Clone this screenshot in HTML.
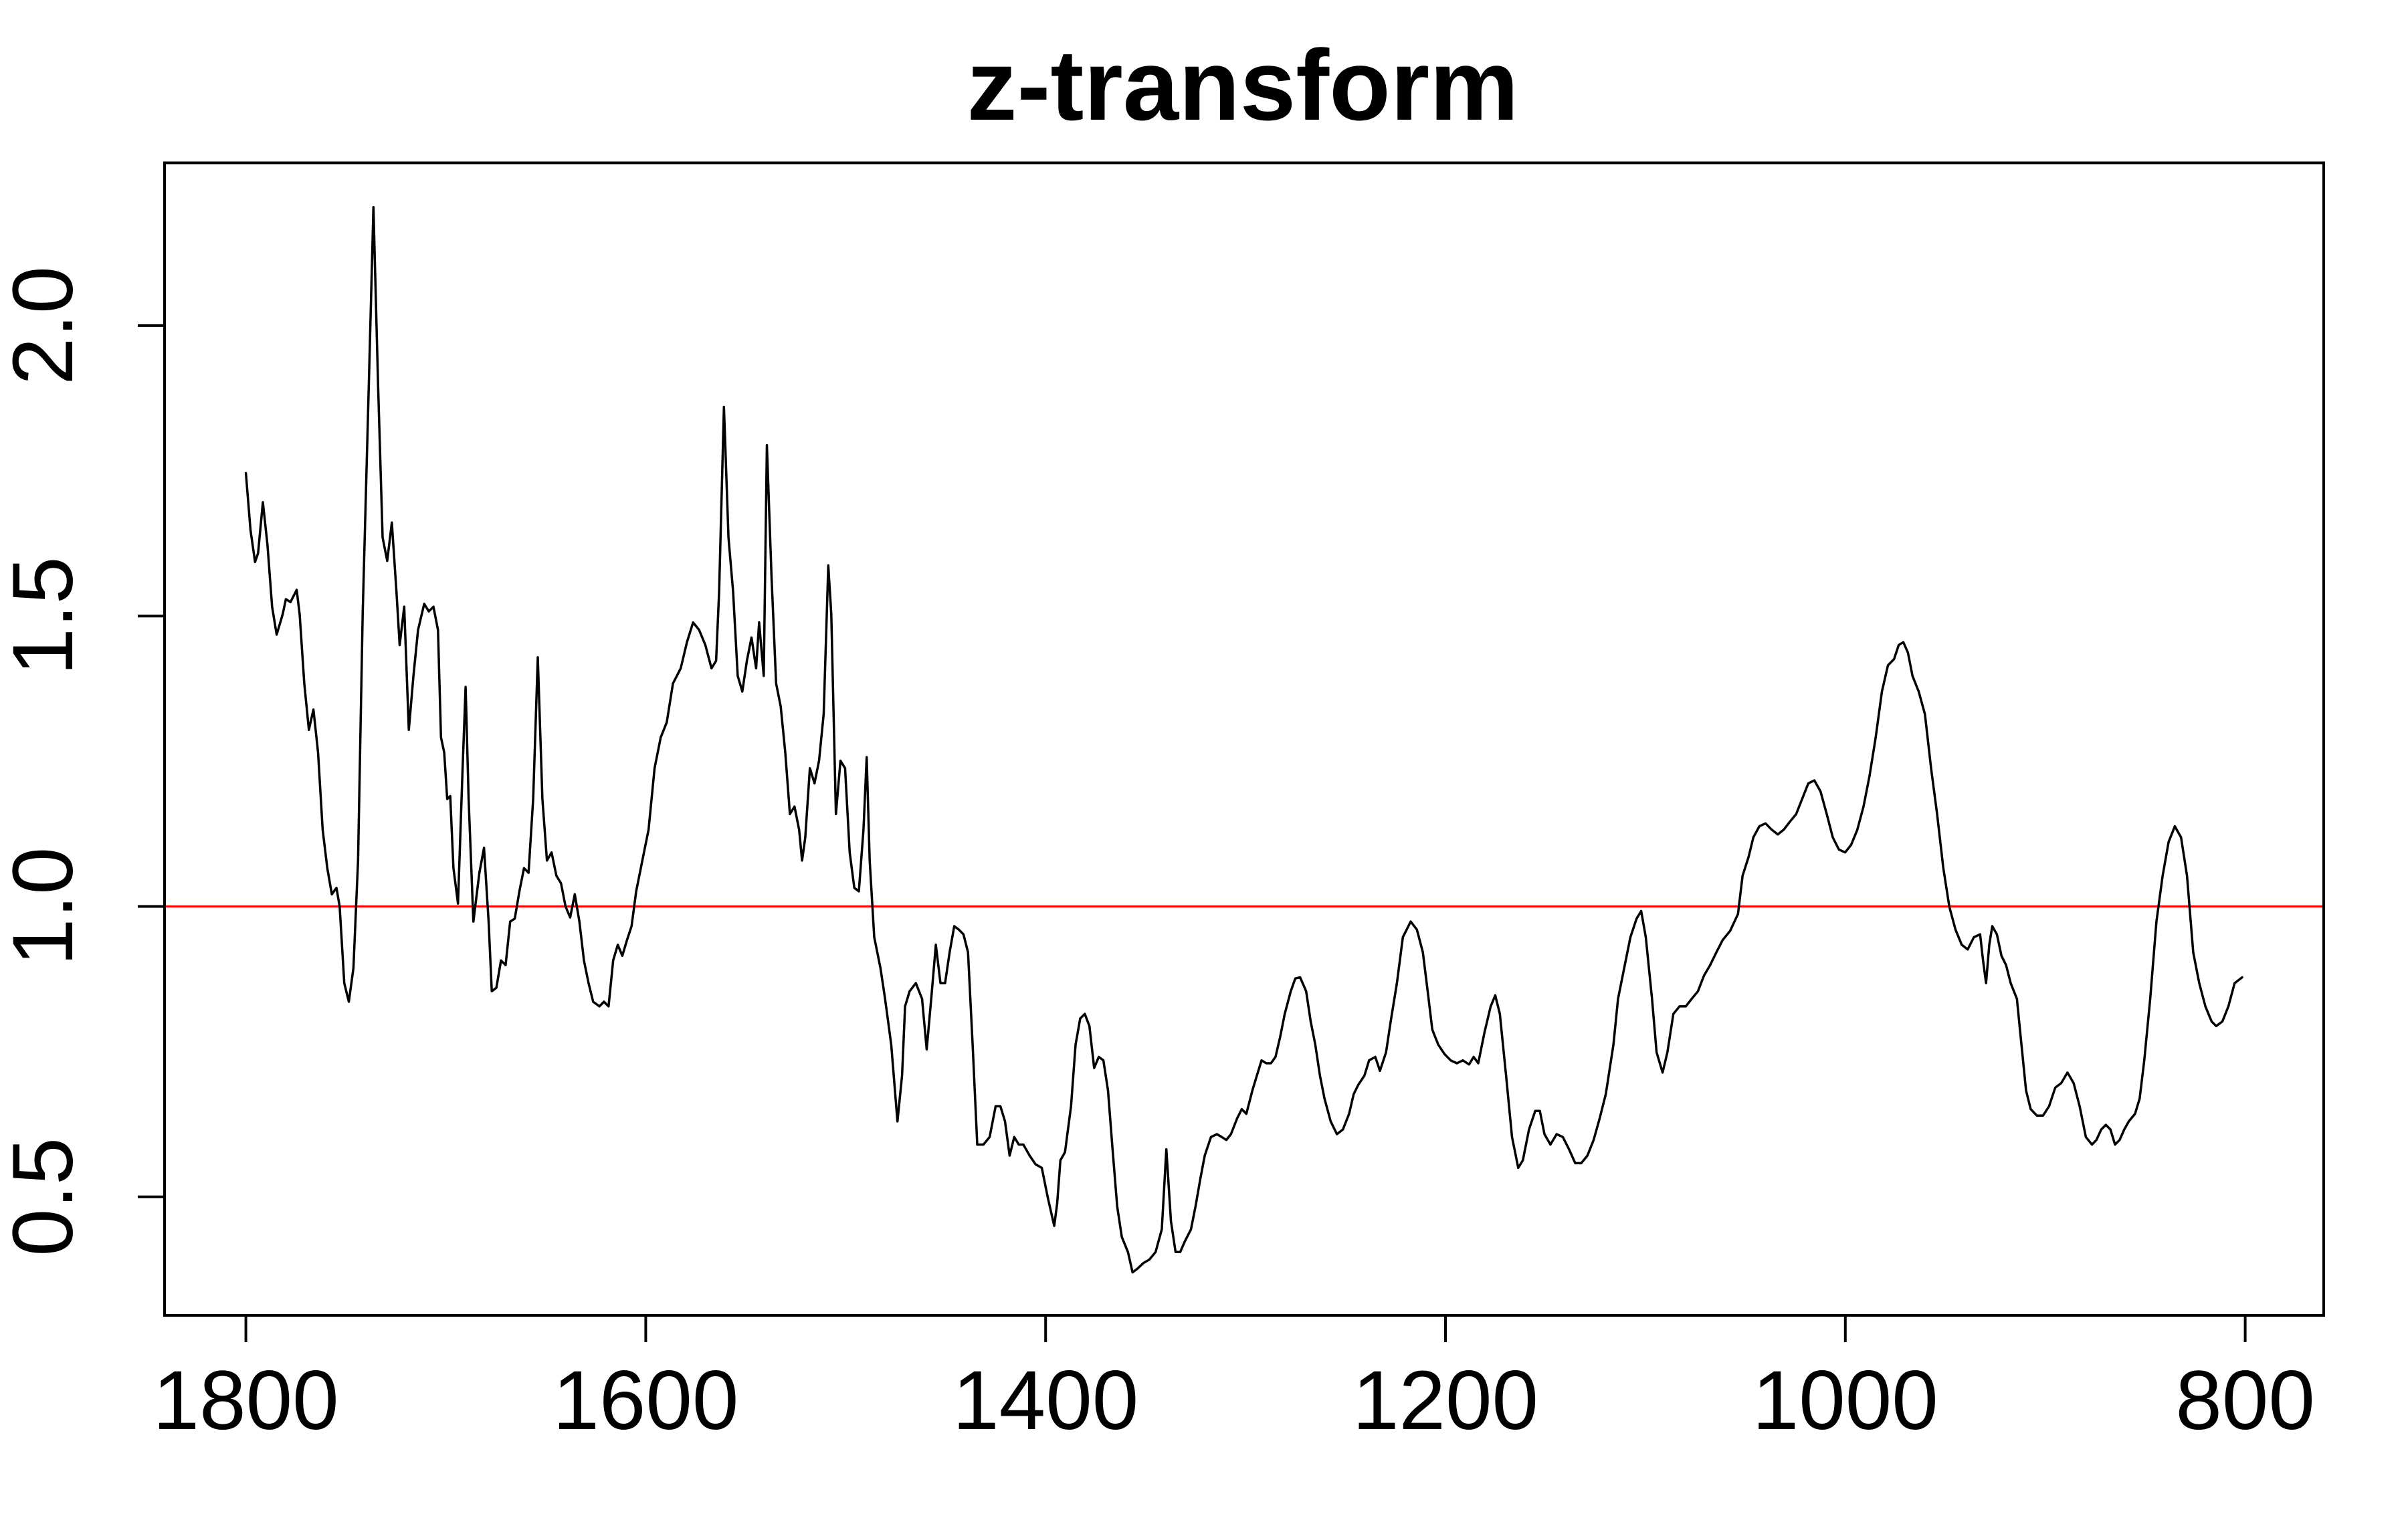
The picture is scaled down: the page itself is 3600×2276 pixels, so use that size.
<!DOCTYPE html>
<html><head><meta charset="utf-8"><style>
html,body{margin:0;padding:0;background:#fff;}
svg{display:block;font-family:"Liberation Sans",sans-serif;}
</style></head><body>
<svg id="chart" width="3600" height="2276" viewBox="0 0 3600 2276" xmlns="http://www.w3.org/2000/svg">
<rect x="0" y="0" width="3600" height="2276" fill="#fff"/>
<text x="1858" y="179" text-anchor="middle" font-size="150" font-weight="bold">z-transform</text>
<g id="plot"></g>
</svg>
<script>
const years=[1800,1797.7,1795.4,1793.9,1791.5,1789.2,1786.9,1784.6,1781.6,1780,1777.7,1774.6,1773.1,1770.8,1768.5,1766.2,1763.9,1761.6,1759.3,1757,1754.7,1753.1,1750.8,1748.5,1746.2,1743.9,1741.6,1738.5,1736.2,1733.9,1731.6,1729.3,1727,1724.7,1723.1,1720.8,1718.5,1716.2,1713.9,1710.8,1708.5,1706.2,1703.9,1702.4,1700.8,1699.3,1697.8,1696.2,1693.9,1691.6,1690.1,1688.6,1686.2,1683.2,1680.9,1678.6,1677,1674.7,1672.4,1670.1,1667.8,1665.5,1663.2,1660.9,1658.6,1656.3,1654,1651.7,1649.4,1647.1,1644.7,1642.4,1640.1,1637.8,1635.5,1633.2,1630.9,1628.6,1626.3,1623.2,1620.9,1618.6,1616.3,1614,1611.7,1609.4,1607.1,1604.8,1601.7,1598.6,1595.6,1592.5,1589.5,1586.4,1582.5,1579.4,1576.3,1573.3,1570.2,1567.1,1564.8,1563.3,1560.9,1558.6,1556.3,1554,1551.7,1549.4,1547.1,1544.8,1543.3,1541,1539.4,1537.1,1534.8,1532.5,1530.2,1527.9,1525.6,1523.3,1521.8,1520.2,1517.9,1515.6,1513.3,1511,1508.7,1507.2,1504.9,1502.6,1500.3,1498,1495.7,1493.4,1491.1,1489.5,1488,1485.7,1482.6,1480.3,1477.2,1474.1,1471.8,1470.3,1468,1464.9,1461.8,1459.5,1457.2,1454.9,1452.6,1450.3,1448,1445.7,1443.4,1441.1,1438.8,1436.5,1434.2,1431.1,1428,1425,1422.6,1420.3,1418,1415.7,1413.4,1411.1,1408,1405,1401.9,1398.8,1395.7,1394.2,1392.6,1390.3,1387.3,1385,1382.7,1380.4,1378.1,1375.7,1373.4,1371.1,1368.8,1366.5,1364.2,1361.9,1358.8,1356.5,1354.2,1351.1,1348.1,1345,1341.9,1339.6,1337.3,1335,1332.7,1330.4,1327.3,1325,1322.7,1320.4,1317.3,1314.3,1311.9,1309.6,1307.3,1304.2,1301.9,1299.6,1296.6,1294.3,1292,1289.6,1287.3,1285,1282.7,1280.4,1277.4,1275.1,1272.7,1269.7,1267.4,1265.1,1262.8,1260.5,1257.4,1254.3,1251.3,1248.2,1245.9,1243.6,1240.5,1238.2,1235.1,1232.8,1229.7,1227.4,1224.3,1221.3,1217.4,1214.3,1211.3,1208.9,1206.6,1203.6,1200.5,1197.4,1194.3,1191.3,1188.2,1185.9,1183.6,1180.5,1177.4,1175.1,1172.8,1169.7,1166.7,1163.6,1161.3,1158.2,1155.1,1152.8,1150.5,1147.5,1144.4,1141.3,1138.2,1135.1,1132.1,1129,1125.9,1122.9,1119.8,1116,1113.7,1110.6,1107.5,1104.4,1102.1,1099.8,1096.7,1094.4,1091.4,1089,1086,1082.9,1079.8,1076.8,1073.7,1070.7,1067.6,1064.5,1061.4,1057.6,1053.7,1051.4,1048.4,1046,1043,1039.9,1036.8,1033.8,1030.8,1027.7,1024.6,1021.6,1018.5,1015.5,1012.4,1009.3,1006.3,1003.2,1000.1,997.1,994,990.9,987.9,984.8,981.7,978.7,975.6,973.3,971,968.7,966.4,963.3,960.2,957.1,954.1,951,948,944.9,941.8,938.8,935.7,932.6,931.1,929.6,928,926.5,924.2,921.9,919.6,917.3,914.2,911.9,909.6,907.3,904.2,901.1,898.1,895,892,888.9,885.8,882.8,879.7,876.6,874.4,872,869.7,867.4,865.1,862.8,860.5,858.2,855.1,852.8,850.5,847.5,844.4,841.3,838.3,835.2,832.1,829.1,826,823,819.9,816.8,814.5,811.4,808.4,805.3,801.5];
const values=[1.746,1.648,1.593,1.608,1.696,1.622,1.516,1.468,1.503,1.529,1.524,1.545,1.503,1.384,1.304,1.339,1.265,1.132,1.066,1.021,1.032,1.0,0.868,0.836,0.894,1.079,1.503,1.899,2.204,1.899,1.635,1.595,1.661,1.542,1.450,1.516,1.304,1.397,1.476,1.521,1.508,1.516,1.476,1.291,1.265,1.185,1.190,1.066,1.005,1.238,1.378,1.185,0.974,1.058,1.101,0.974,0.854,0.860,0.907,0.899,0.974,0.979,1.026,1.066,1.058,1.185,1.429,1.185,1.079,1.093,1.053,1.040,1.0,0.981,1.021,0.974,0.907,0.868,0.836,0.828,0.836,0.828,0.907,0.934,0.915,0.942,0.966,1.026,1.079,1.132,1.238,1.291,1.317,1.384,1.410,1.455,1.489,1.476,1.450,1.410,1.423,1.542,1.860,1.635,1.542,1.397,1.370,1.423,1.463,1.410,1.489,1.397,1.794,1.569,1.384,1.344,1.265,1.159,1.172,1.132,1.079,1.119,1.238,1.212,1.251,1.331,1.587,1.503,1.159,1.251,1.238,1.093,1.032,1.026,1.132,1.257,1.079,0.947,0.894,0.841,0.762,0.630,0.709,0.828,0.854,0.868,0.841,0.754,0.841,0.934,0.868,0.868,0.921,0.966,0.960,0.952,0.921,0.762,0.590,0.590,0.603,0.656,0.656,0.630,0.571,0.603,0.590,0.590,0.571,0.556,0.550,0.497,0.450,0.489,0.563,0.577,0.656,0.762,0.807,0.815,0.794,0.722,0.741,0.735,0.683,0.582,0.484,0.431,0.405,0.370,0.376,0.386,0.392,0.405,0.444,0.582,0.458,0.405,0.405,0.423,0.444,0.484,0.529,0.571,0.603,0.608,0.603,0.598,0.608,0.635,0.651,0.643,0.683,0.709,0.735,0.730,0.730,0.741,0.775,0.815,0.854,0.876,0.878,0.854,0.802,0.762,0.709,0.669,0.630,0.608,0.616,0.643,0.677,0.693,0.709,0.735,0.741,0.717,0.749,0.802,0.868,0.947,0.974,0.960,0.921,0.854,0.788,0.762,0.746,0.735,0.730,0.735,0.728,0.741,0.730,0.783,0.828,0.847,0.815,0.709,0.603,0.550,0.563,0.616,0.648,0.648,0.608,0.590,0.608,0.603,0.582,0.558,0.558,0.571,0.598,0.635,0.677,0.762,0.841,0.894,0.947,0.979,0.992,0.947,0.841,0.749,0.714,0.749,0.815,0.828,0.828,0.841,0.854,0.881,0.899,0.921,0.942,0.958,0.987,1.053,1.085,1.119,1.138,1.143,1.132,1.124,1.132,1.146,1.159,1.185,1.212,1.217,1.198,1.159,1.119,1.098,1.093,1.106,1.132,1.172,1.225,1.291,1.370,1.415,1.426,1.450,1.455,1.437,1.397,1.370,1.331,1.238,1.159,1.066,1.0,0.960,0.934,0.926,0.947,0.952,0.907,0.868,0.934,0.966,0.952,0.915,0.899,0.868,0.841,0.762,0.683,0.651,0.640,0.640,0.656,0.688,0.696,0.714,0.696,0.656,0.603,0.590,0.598,0.616,0.624,0.616,0.590,0.598,0.616,0.630,0.643,0.669,0.735,0.841,0.974,1.053,1.111,1.138,1.119,1.053,0.921,0.868,0.828,0.802,0.794,0.802,0.828,0.868,0.878];
const xTicks=[1800,1600,1400,1200,1000,800];
const xTickLabels=["1800","1600","1400","1200","1000","800"];
const yTicks=[0.5,1.0,1.5,2.0];
const yTickLabels=["0.5","1.0","1.5","2.0"];
const refValue=1.0;

const NS="http://www.w3.org/2000/svg";
const X0=367.6,X1=3356.6,Y1=1355.5,Y0=1789.8;
function xs(yr){return X0+(1800-yr)*(X1-X0)/1000;}
function ys(v){return Y1+(1-v)*(Y0-Y1)/0.5;}
const g=document.getElementById('plot');
function mk(tag,attrs){const e=document.createElementNS(NS,tag);for(const k in attrs)e.setAttribute(k,attrs[k]);g.appendChild(e);return e;}
const L=246,R=3474,T=243.5,B=1967;

const ref=mk('line',{x1:L,x2:R,y1:ys(refValue),y2:ys(refValue),stroke:'#ff0000','stroke-width':3});



let d='';
for(let i=0;i<years.length;i++){d+=(i?'L':'M')+xs(years[i]).toFixed(1)+' '+ys(values[i]).toFixed(1);}
const ln=mk('path',{d:d,fill:'none',stroke:'#000','stroke-width':3.5,'stroke-linejoin':'round','stroke-linecap':'round'});



const box=mk('rect',{x:L,y:T,width:R-L,height:B-T,fill:'none',stroke:'#000','stroke-width':4});



xTicks.forEach((t,i)=>{
  const tk=mk('line',{x1:xs(t),x2:xs(t),y1:B,y2:B+40,stroke:'#000','stroke-width':4});
  
  
  const tx=mk('text',{x:xs(t),y:2137,'text-anchor':'middle','font-size':125});
  tx.textContent=xTickLabels[i];
  
  
});
yTicks.forEach((t,i)=>{
  const tk=mk('line',{x1:L,x2:L-40,y1:ys(t),y2:ys(t),stroke:'#000','stroke-width':4});
  
  
  const tx=mk('text',{x:108,y:ys(t),'text-anchor':'middle','font-size':128,transform:'rotate(-90 108 '+ys(t)+')'});
  tx.textContent=yTickLabels[i];
  
  
});
</script>
</body></html>
